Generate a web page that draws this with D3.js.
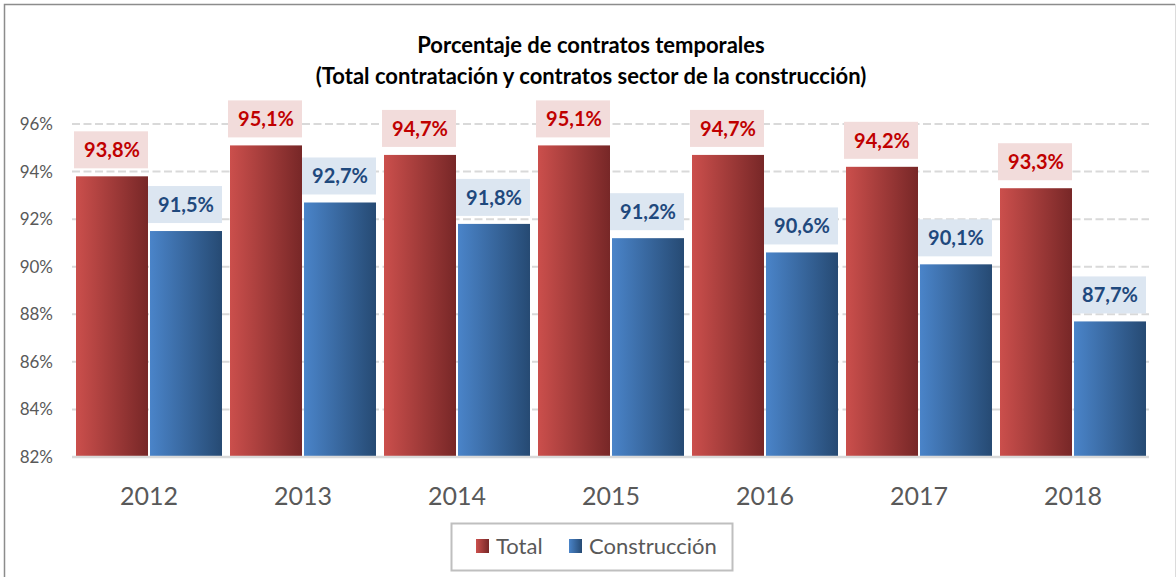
<!DOCTYPE html>
<html>
<head>
<meta charset="utf-8">
<script src="https://cdn.jsdelivr.net/npm/d3@7"></script>
<style>
  html, body { margin: 0; padding: 0; background: #fff; }
  svg { display: block; font-family: Lato, "Open Sans", sans-serif; }
</style>
</head>
<body>
<svg width="1176" height="577"></svg>
<script>
// dati
const years = ["2012", "2013", "2014", "2015", "2016", "2017", "2018"];
const seriesNames = ["Total", "Construcción"];
const totalValues = [93.8, 95.1, 94.7, 95.1, 94.7, 94.2, 93.3];
const construccionValues = [91.5, 92.7, 91.8, 91.2, 90.6, 90.1, 87.7];
const yTicks = [82, 84, 86, 88, 90, 92, 94, 96];
const titleLines = [
  "Porcentaje de contratos temporales",
  "(Total contratación y contratos sector de la construcción)"
];

const svg = d3.select("svg");
const width = +svg.attr("width");
const height = +svg.attr("height");

const rows = years.map((y, i) => ({ year: y, Total: totalValues[i], "Construcción": construccionValues[i] }));

const colors = {
  Total: { from: "#cb4f4c", to: "#772727", label: "#c00000", box: "#f2dcdb" },
  "Construcción": { from: "#4a84c9", to: "#264a73", label: "#1f497d", box: "#dce6f1" }
};

const locale = d3.formatLocale({ decimal: ",", thousands: ".", grouping: [3], currency: ["", "€"] });
const fmt = locale.format(".1f");

// gradienti delle barre
const defs = svg.append("defs");
seriesNames.forEach((s, i) => {
  const g = defs.append("linearGradient").attr("id", "grad" + i)
    .attr("x1", "0%").attr("x2", "100%").attr("y1", "0%").attr("y2", "0%");
  g.append("stop").attr("offset", "0%").attr("stop-color", colors[s].from);
  g.append("stop").attr("offset", "100%").attr("stop-color", colors[s].to);
});

// cornice
svg.append("path")
  .attr("d", "M4.5,577 V4.5 H1175")
  .attr("fill", "none").attr("stroke", "#8c8c8c").attr("stroke-width", 1.5);
svg.append("line")
  .attr("x1", 1175.5).attr("x2", 1175.5).attr("y1", 4).attr("y2", 577)
  .attr("stroke", "#dcdcdc").attr("stroke-width", 1);

// titolo
svg.append("g").selectAll("text")
  .data(titleLines)
  .join("text")
  .attr("x", 591)
  .attr("y", (d, i) => 53 + i * 31)
  .attr("text-anchor", "middle")
  .attr("font-size", 22)
  .attr("font-weight", "bold")
  .attr("fill", "#000")
  .text(d => d);

// scale
const x = d3.scaleBand().domain(years).range([72, 1150]);
const xs = d3.scaleBand().domain(seriesNames).range([4, x.bandwidth() - 4]).paddingInner(2 / 74);
const y = d3.scaleLinear().domain([82, 96]).range([457, 124]);

// griglia
svg.append("g").selectAll("line")
  .data(yTicks.filter(d => d !== 82))
  .join("line")
  .attr("x1", 72).attr("x2", 1149)
  .attr("y1", d => y(d)).attr("y2", d => y(d))
  .attr("stroke", "#d9d9d9").attr("stroke-width", 2)
  .attr("stroke-dasharray", "8,3.5");

// asse y
const yAxis = svg.append("g")
  .attr("transform", "translate(72,0)")
  .call(d3.axisLeft(y).tickValues(yTicks).tickFormat(d => d + "%").tickSize(0).tickPadding(19));
yAxis.select(".domain").remove();
yAxis.selectAll("text").attr("font-size", 17).attr("fill", "#595959").attr("font-family", "Lato, sans-serif");

// barre
const groups = svg.append("g").selectAll("g")
  .data(rows)
  .join("g")
  .attr("transform", d => `translate(${x(d.year)},0)`);

groups.selectAll("rect.bar")
  .data(d => seriesNames.map((s, i) => ({ key: s, idx: i, value: d[s] })))
  .join("rect")
  .attr("class", "bar")
  .attr("x", d => xs(d.key))
  .attr("width", xs.bandwidth())
  .attr("y", d => y(d.value))
  .attr("height", d => y(82) - y(d.value))
  .attr("fill", d => `url(#grad${d.idx})`);

// etichette
const labels = groups.selectAll("g.lab")
  .data(d => seriesNames.map((s, i) => ({ key: s, idx: i, value: d[s] })))
  .join("g")
  .attr("class", "lab")
  .attr("transform", d => `translate(${xs(d.key) + xs.bandwidth() / 2},${y(d.value) - 8})`);

labels.append("rect")
  .attr("x", -38).attr("width", 74)
  .attr("y", -37).attr("height", 37)
  .attr("fill", d => colors[d.key].box);

labels.append("text")
  .attr("y", -11)
  .attr("text-anchor", "middle")
  .attr("font-size", 20)
  .attr("font-weight", "bold")
  .attr("fill", d => colors[d.key].label)
  .text(d => fmt(d.value) + "%");

// asse x
const xAxis = svg.append("g")
  .attr("transform", `translate(0,${y(82)})`)
  .call(d3.axisBottom(x).tickSize(0).tickPadding(30));
xAxis.select(".domain")
  .attr("d", "M72,0H1149")
  .attr("stroke", "#d9d9d9").attr("stroke-width", 2.5);
xAxis.selectAll("text").attr("font-size", 25).attr("fill", "#595959").attr("font-family", "Lato, sans-serif");

// legenda
const legend = svg.append("g");
legend.append("rect")
  .attr("x", 451.5).attr("y", 523.5).attr("width", 281).attr("height", 47)
  .attr("fill", "#fff").attr("stroke", "#bfbfbf").attr("stroke-width", 2);

const legendX = [476, 569];
const items = legend.selectAll("g")
  .data(seriesNames)
  .join("g")
  .attr("transform", (d, i) => `translate(${legendX[i]},539)`);
items.append("rect")
  .attr("width", 13).attr("height", 14)
  .attr("fill", (d, i) => `url(#grad${i})`);
items.append("text")
  .attr("x", 20).attr("y", 15)
  .attr("font-size", 22)
  .attr("fill", "#595959")
  .text(d => d);
</script>
</body>
</html>
